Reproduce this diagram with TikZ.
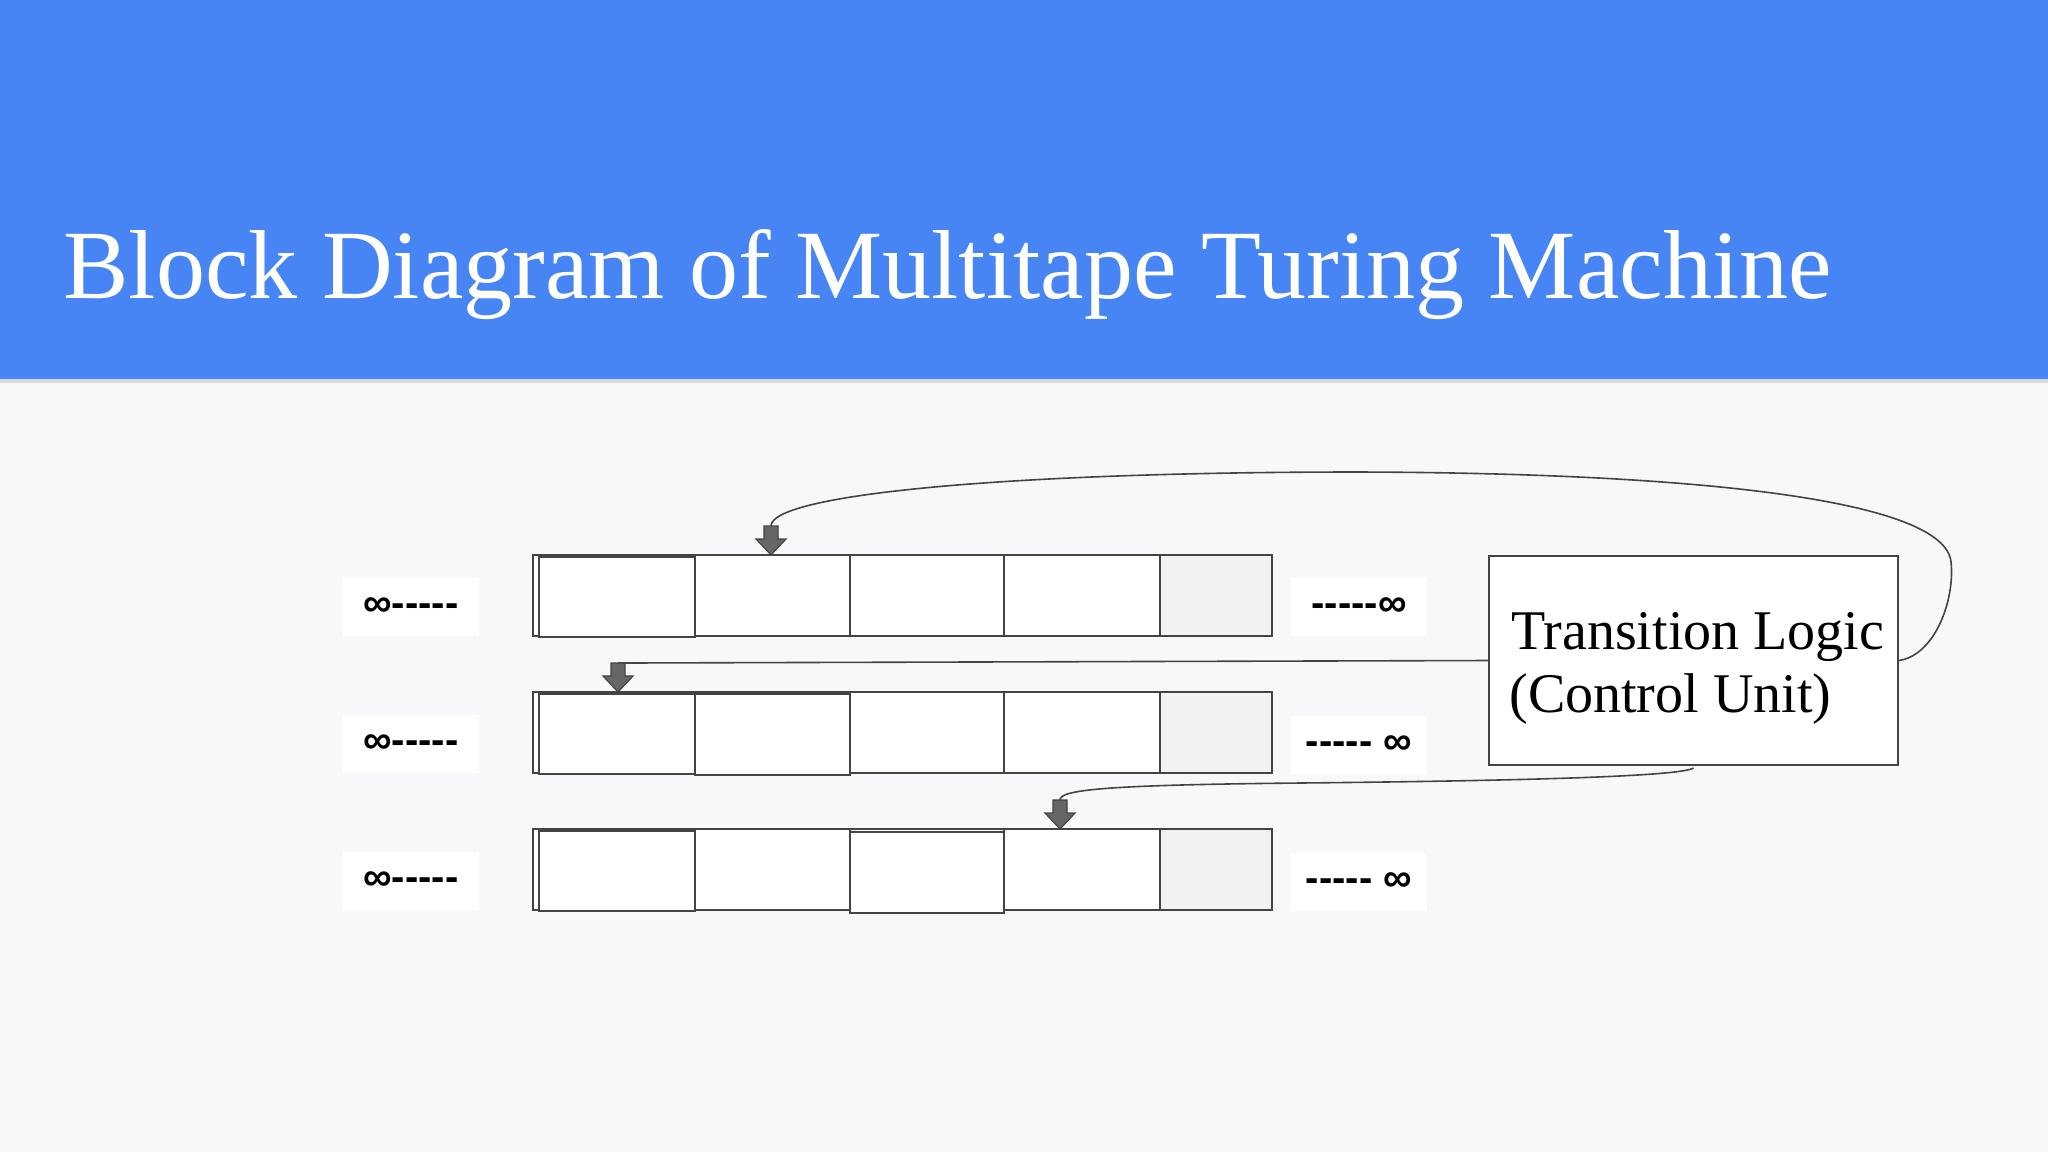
\documentclass[tikz,border=0pt]{standalone}
\usepackage{fontspec}
\setmainfont{Liberation Serif}
\newfontfamily\sansf{Liberation Sans}
\definecolor{hdr}{HTML}{4785F4}
\definecolor{bg}{HTML}{F8F8FA}
\definecolor{cellg}{HTML}{F2F1F3}
\definecolor{ln}{HTML}{444444}
\definecolor{arr}{HTML}{666666}
\newcommand{\blockarrow}[2]{%
  \fill[arr,draw=ln,line width=0.6pt] (#1,#2) -- ++(-15,-16) -- ++(8,0) -- ++(0,-13) -- ++(14,0) -- ++(0,13) -- ++(8,0) -- cycle;}
\begin{document}
\begin{tikzpicture}[x=0.5pt,y=-0.5pt,
  cellbox/.style={draw=ln,line width=1pt,fill=white},
  graycell/.style={draw=ln,line width=1pt,fill=cellg},
  inflbl/.style={fill=white,inner sep=0pt,minimum width=68pt,minimum height=29pt,font=\sansf\fontsize{20}{20}\selectfont\bfseries},
  conn/.style={draw=ln,line width=0.8pt}]
\useasboundingbox (0,0) rectangle (2048,1152);
\fill[bg] (0,0) rectangle (2048,1152);
\fill[hdr] (0,0) rectangle (2048,379);
\fill[black!15] (0,379) rectangle (2048,383);
\node[anchor=base west,text=white,font=\fontsize{49}{49}\selectfont,inner sep=0pt] (title) at (63,298) {Block Diagram of Multitape Turing Machine};
\foreach \t/\y in {1/555,2/692,3/829}{
  \draw[cellbox] (533,\y) rectangle (1160,\y+81);
  \draw[cellbox] (539,\y+2) rectangle (695,\y+82);
  \draw[cellbox] (695,\y) rectangle (850,\y+81);
  \draw[cellbox] (850,\y) rectangle (1004,\y+81);
  \draw[cellbox] (1004,\y) rectangle (1160,\y+81);
  \draw[graycell] (1160,\y) rectangle (1272,\y+81);
  \node[inflbl] (l\t) at (411,\y+52) {∞-----};
}
\draw[cellbox] (695,694) rectangle (850,775);
\draw[cellbox] (850,832) rectangle (1004,913);
\node[inflbl] (r1) at (1359,607) {-----∞};
\node[inflbl] (r2) at (1359,745) {----- ∞};
\node[inflbl] (r3) at (1359,882) {----- ∞};
\node[draw=ln,line width=1pt,fill=white,minimum width=204.5pt,minimum height=104.5pt,inner sep=0pt] (cu) at (1693.5,660.5) {};
\node[anchor=base west,font=\fontsize{28}{28}\selectfont,inner sep=0pt] (cu1) at (1511,649) {Transition Logic};
\node[anchor=base west,font=\fontsize{28}{28}\selectfont,inner sep=0pt] (cu2) at (1509,712) {(Control Unit)};
\coordinate (a1) at (771,526);
\coordinate (a2) at (618,663);
\coordinate (a3) at (1060,800);
\draw[conn] (cu.east) .. controls (1935,655) and (1955,600) .. (1951,562)
  .. controls (1945,500) and (1700,473) .. (1358,472)
  .. controls (1000,472) and (771,495) .. (a1);
\draw[conn] (cu.west) -- (625,663) -- (a2);
\draw[conn] (cu.south) ++(0,2) .. controls (1680,777) and (1500,781) .. (1300,783)
  .. controls (1100,785) and (1060,790) .. (a3);
\blockarrow{771}{555}
\blockarrow{618}{692}
\blockarrow{1060}{829}
\end{tikzpicture}
\end{document}
